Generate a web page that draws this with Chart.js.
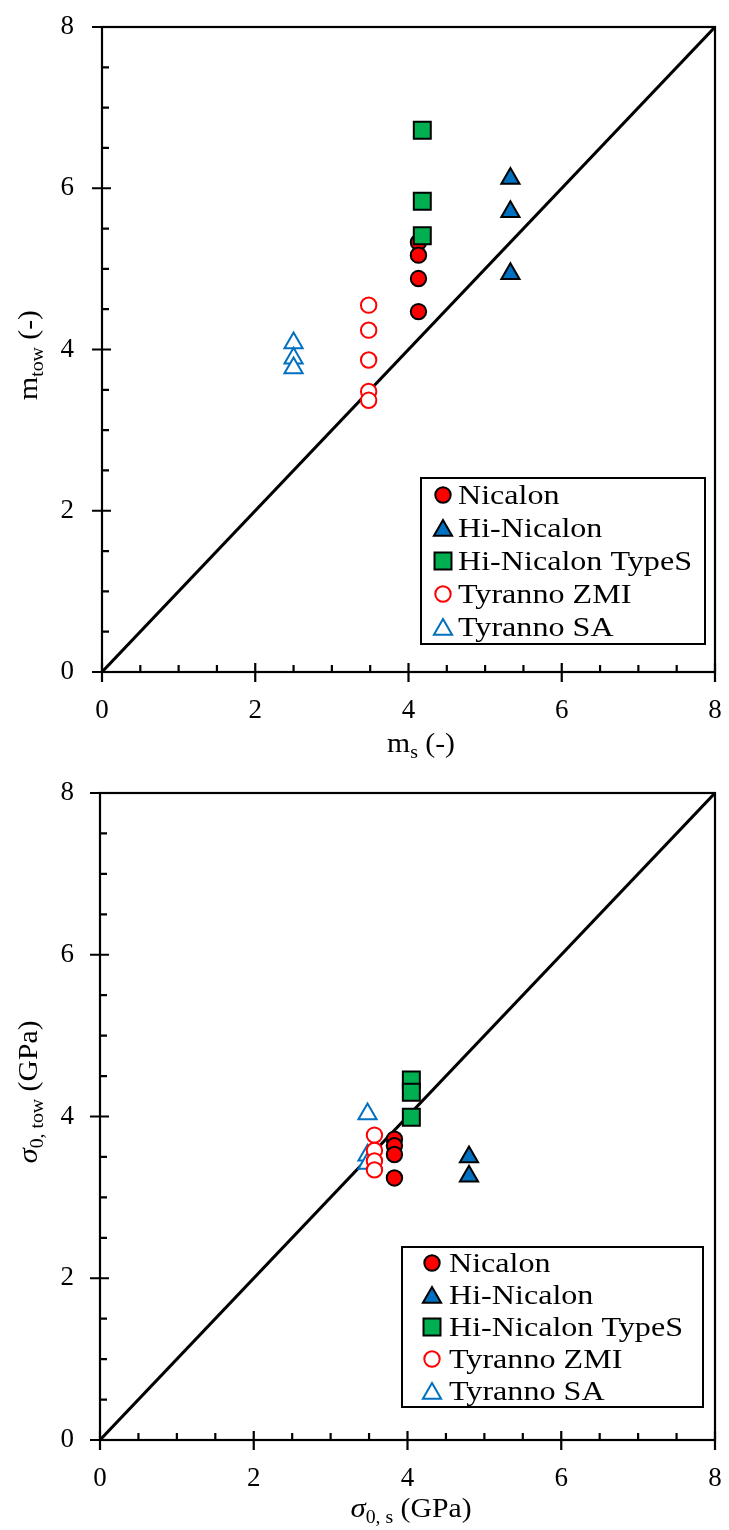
<!DOCTYPE html>
<html>
<head>
<meta charset="utf-8">
<script src="https://cdn.jsdelivr.net/npm/chart.js@4.4.0/dist/chart.umd.min.js"></script>
<style>
  body { margin: 0; background: #fff; font-family: 'Liberation Serif', serif; }
  canvas { display: block; }
</style>
</head>
<body>
<canvas id="chartM" width="729" height="765"></canvas>
<canvas id="chartS" width="729" height="765"></canvas>
<script>
const seriesNames = ['Nicalon', 'Hi-Nicalon', 'Hi-Nicalon TypeS', 'Tyranno ZMI', 'Tyranno SA'];
const axisTicks = [0, 2, 4, 6, 8];
const diagonal = [0, 8];

// Weibull modulus: single filament (x) vs tow (y)
const msNicalon = [4.13, 4.13, 4.13, 4.13];
const mtowNicalon = [5.33, 5.17, 4.88, 4.47];
const msHiNicalon = [5.33, 5.33, 5.33];
const mtowHiNicalon = [6.12, 5.71, 4.94];
const msTypeS = [4.18, 4.18, 4.18];
const mtowTypeS = [6.72, 5.84, 5.41];
const msZMI = [3.48, 3.48, 3.48, 3.48, 3.48];
const mtowZMI = [4.55, 4.24, 3.87, 3.48, 3.37];
const msSA = [2.50, 2.50, 2.50];
const mtowSA = [4.08, 3.89, 3.77];

// scale parameter (GPa): single filament (x) vs tow (y)
const s0Nicalon = [3.83, 3.83, 3.83, 3.83];
const s0towNicalon = [3.72, 3.64, 3.53, 3.24];
const s0HiNicalon = [4.80, 4.80];
const s0towHiNicalon = [3.50, 3.26];
const s0TypeS = [4.05, 4.05, 4.05];
const s0towTypeS = [4.45, 4.30, 3.99];
const s0ZMI = [3.57, 3.57, 3.57, 3.57];
const s0towZMI = [3.77, 3.58, 3.45, 3.34];
const s0SA = [3.48, 3.48, 3.48];
const s0towSA = [4.03, 3.52, 3.42];

const styles = [
  { pointStyle: 'circle', radius: 7.7, bg: '#ff0000', border: '#000000', order: 5 },
  { pointStyle: 'triangle', radius: 10.5, bg: '#0070c0', border: '#000000', order: 4 },
  { pointStyle: 'rect', radius: 12, bg: '#00b050', border: '#000000', order: 3 },
  { pointStyle: 'circle', radius: 7.7, bg: '#ffffff', border: '#ff0000', order: 2 },
  { pointStyle: 'triangle', radius: 10.5, bg: '#ffffff', border: '#0070c0', order: 6 }
];

const serif = "'Liberation Serif', 'Times New Roman', serif";
const pts = (xs, ys) => xs.map((x, i) => ({ x: x, y: ys[i] }));

function marker(ctx, st, x, y) {
  const r = st.radius;
  ctx.beginPath();
  if (st.pointStyle === 'circle') {
    ctx.arc(x, y, r, 0, Math.PI * 2);
  } else if (st.pointStyle === 'rect') {
    const h = r * Math.SQRT1_2;
    ctx.rect(x - h, y - h, 2 * h, 2 * h);
  } else {
    ctx.moveTo(x, y - r);
    ctx.lineTo(x + r * Math.sin(Math.PI * 2 / 3), y - r * Math.cos(Math.PI * 2 / 3));
    ctx.lineTo(x + r * Math.sin(Math.PI * 4 / 3), y - r * Math.cos(Math.PI * 4 / 3));
  }
  ctx.closePath();
  ctx.fillStyle = st.bg;
  ctx.fill();
  ctx.lineWidth = 2;
  ctx.strokeStyle = st.border;
  ctx.stroke();
}

// text made of runs (for subscripts), centred on cx, baseline at cy
function drawRich(ctx, segs, cx, cy, rot, sx) {
  ctx.save();
  ctx.translate(cx, cy);
  if (rot) ctx.rotate(rot);
  ctx.scale(sx, 1);
  let w = 0;
  segs.forEach(s => { ctx.font = s.f; s.w = ctx.measureText(s.t).width; w += s.w; });
  let x = -w / 2;
  ctx.textBaseline = 'alphabetic';
  ctx.textAlign = 'left';
  ctx.fillStyle = '#000';
  segs.forEach(s => { ctx.font = s.f; ctx.fillText(s.t, x, s.dy || 0); x += s.w; });
  ctx.restore();
}

const decor = {
  id: 'decor',
  afterDraw(chart, args, o) {
    const ctx = chart.ctx;
    const a = chart.chartArea;
    const xs = chart.scales.x, ys = chart.scales.y;
    ctx.save();
    ctx.strokeStyle = '#000';
    ctx.lineWidth = 2.2;
    ctx.strokeRect(a.left, a.top, a.right - a.left, a.bottom - a.top);
    ctx.beginPath();
    for (let v = xs.min; v <= xs.max + 1e-9; v += 0.5) {
      const px = xs.getPixelForValue(v);
      const major = Math.abs(v % 2) < 1e-9;
      ctx.moveTo(px, a.bottom + (major ? 10 : 0));
      ctx.lineTo(px, a.bottom - (major ? 9 : 7));
    }
    for (let v = ys.min; v <= ys.max + 1e-9; v += 0.5) {
      const py = ys.getPixelForValue(v);
      const major = Math.abs(v % 2) < 1e-9;
      ctx.moveTo(a.left - (major ? 10 : 0), py);
      ctx.lineTo(a.left + (major ? 9 : 7), py);
    }
    ctx.stroke();

    drawRich(ctx, o.xTitle, o.xTitlePos[0], o.xTitlePos[1], 0, 1.1);
    drawRich(ctx, o.yTitle, o.yTitlePos[0], o.yTitlePos[1], -Math.PI / 2, 1.1);

    // legend box
    const L = o.legend;
    ctx.fillStyle = '#fff';
    ctx.fillRect(L.x, L.y, L.w, L.h);
    ctx.lineWidth = 2;
    ctx.strokeStyle = '#000';
    ctx.strokeRect(L.x, L.y, L.w, L.h);
    ctx.font = '27px ' + serif;
    const sx = 234 / ctx.measureText('Hi-Nicalon TypeS').width;
    seriesNames.forEach((name, i) => {
      const y = L.y + L.first + i * L.step;
      const st = styles[i];
      marker(ctx, st, L.x + L.mx, y + (st.pointStyle === 'triangle' ? 2.5 : 0));
      ctx.save();
      ctx.translate(L.x + L.tx, y + 9);
      ctx.scale(sx, 1);
      ctx.fillStyle = '#000';
      ctx.textBaseline = 'alphabetic';
      ctx.textAlign = 'left';
      ctx.font = '27px ' + serif;
      ctx.fillText(name, 0, 0);
      ctx.restore();
    });
    ctx.restore();
  }
};

function makeChart(id, xsList, ysList, cfg) {
  const datasets = xsList.map((xs, i) => ({
    label: seriesNames[i],
    data: pts(xs, ysList[i]),
    pointStyle: styles[i].pointStyle,
    pointRadius: styles[i].radius,
    pointHoverRadius: styles[i].radius,
    pointBackgroundColor: styles[i].bg,
    pointBorderColor: styles[i].border,
    pointBorderWidth: 2,
    order: styles[i].order
  }));
  datasets.push({
    label: 'y = x',
    data: pts(diagonal, diagonal),
    showLine: true,
    borderColor: '#000',
    borderWidth: 3,
    pointRadius: 0,
    order: 10
  });
  return new Chart(document.getElementById(id), {
    type: 'scatter',
    data: { datasets: datasets },
    options: {
      responsive: false,
      animation: false,
      events: [],
      layout: { padding: { top: cfg.padTop, right: 12, left: 0, bottom: 0 } },
      scales: {
        x: {
          min: 0, max: 8,
          afterFit: s => { s.height = cfg.xHeight; s.paddingLeft = 0; s.paddingRight = 0; },
          afterBuildTicks: s => { s.ticks = axisTicks.map(v => ({ value: v })); },
          grid: { display: false, drawTicks: false },
          border: { display: false },
          ticks: { color: '#000', padding: 23, maxRotation: 0, font: { family: serif, size: 27 } }
        },
        y: {
          min: 0, max: 8,
          afterFit: s => { s.width = cfg.yWidth; s.paddingTop = 0; s.paddingBottom = 0; },
          afterBuildTicks: s => { s.ticks = axisTicks.map(v => ({ value: v })); },
          grid: { display: false, drawTicks: false },
          border: { display: false },
          ticks: { color: '#000', padding: cfg.yWidth - 74, font: { family: serif, size: 27 } }
        }
      },
      plugins: {
        legend: { display: false },
        tooltip: { enabled: false },
        decor: cfg.decor
      }
    },
    plugins: [decor]
  });
}

const big = '27px ' + serif;
const small = '18px ' + serif;
const bigIt = 'italic 28px ' + serif;

function build() {
  makeChart('chartM',
    [msNicalon, msHiNicalon, msTypeS, msZMI, msSA],
    [mtowNicalon, mtowHiNicalon, mtowTypeS, mtowZMI, mtowSA],
    {
      padTop: 27, xHeight: 93, yWidth: 102,
      decor: {
        xTitle: [{ t: 'm', f: big }, { t: 's', f: small, dy: 6 }, { t: ' (-)', f: big }],
        xTitlePos: [421, 752],
        yTitle: [{ t: 'm', f: big }, { t: 'tow', f: small, dy: 6 }, { t: ' (-)', f: big }],
        yTitlePos: [37, 355],
        legend: { x: 421, y: 478, w: 284, h: 166, first: 17, step: 33, mx: 22, tx: 37 }
      }
    });

  makeChart('chartS',
    [s0Nicalon, s0HiNicalon, s0TypeS, s0ZMI, s0SA],
    [s0towNicalon, s0towHiNicalon, s0towTypeS, s0towZMI, s0towSA],
    {
      padTop: 28, xHeight: 90, yWidth: 100,
      decor: {
        xTitle: [{ t: 'σ', f: bigIt }, { t: '0, s', f: small, dy: 6 }, { t: ' (GPa)', f: big }],
        xTitlePos: [411, 752],
        yTitle: [{ t: 'σ', f: bigIt }, { t: '0, tow', f: small, dy: 6 }, { t: ' (GPa)', f: big }],
        yTitlePos: [37, 327],
        legend: { x: 402, y: 482, w: 301, h: 160, first: 16, step: 32, mx: 30, tx: 47 }
      }
    });
}

Promise.all([
  document.fonts.load("27px 'Liberation Serif'"),
  document.fonts.load("italic 28px 'Liberation Serif'")
]).then(build, build);
</script>
</body>
</html>
